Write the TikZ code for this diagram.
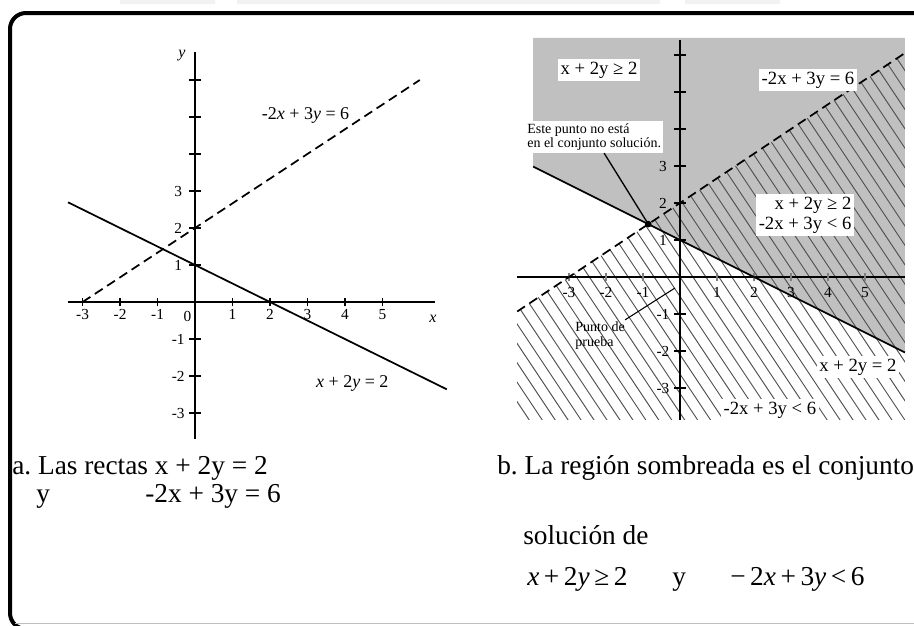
\documentclass[tikz,border=0pt]{standalone}
\usepackage{fontspec}
\setmainfont{Liberation Serif}
\usetikzlibrary{positioning}
\definecolor{shadegray}{HTML}{C0C0C0}
\definecolor{hatchgray}{HTML}{505050}
\frenchspacing

\begin{document}
\begin{tikzpicture}[x=0.75pt, y=-0.75pt,
    axis/.style={line width=2pt},
    graph/.style={line width=1.3pt},
    dashgraph/.style={line width=1.3pt, dash pattern=on 7pt off 4pt},
    tickmark/.style={line width=1pt},
    ticklbl/.style={font=\fontsize{11.5}{12}\selectfont, inner sep=1pt},
    eqlbl/.style={font=\fontsize{13.5}{15}\selectfont, inner sep=1pt},
    boxlbl/.style={fill=white, font=\fontsize{14}{15}\selectfont, inner sep=2pt, align=right},
    notelbl/.style={fill=white, font=\fontsize{10.5}{11}\selectfont, inner sep=1.5pt, align=left},
    caption/.style={font=\fontsize{20.5}{22}\selectfont, inner sep=0pt, anchor=base west}]

\useasboundingbox (0,0) rectangle (914,625);
% marco
\fill[gray!10] (120,0) rectangle (215,4) (237,0) rectangle (660,4) (685,0) rectangle (780,4);
\draw[line width=3pt, rounded corners=12pt] (10,13) rectangle (935,629);
\draw[gray!50, line width=0.6pt] (15,623) -- (914,623);

% (a) las dos rectas
\begin{scope}[shift={(195,302)}, x=28.1pt, y=27.75pt]
  \draw[axis] (-3.4,0) -- (6.4,0);
  \draw[axis] (0,-3.7) -- (0,6.75);
  \foreach \i in {-3,-2,-1,1,2,3,4,5} {
    \draw[tickmark] (\i,-0.12) -- (\i,0.12);
    \node[ticklbl, below=1pt] at (\i,-0.12) {\i};
  }
  \foreach \i in {-3,-2,-1,1,2,...,6}
    \draw[tickmark] (-0.15,\i) -- (0.15,\i);
  \foreach \i in {-3,-2,-1,1,2,3}
    \node[ticklbl] at (-0.45,\i) {\i};
  \node[ticklbl] (cero) at (-0.2,-0.4) {0};
  \node[ticklbl, font=\fontsize{12}{13}\selectfont\itshape] (ejex) at (6.35,-0.45) {x};
  \node[ticklbl, font=\fontsize{12}{13}\selectfont\itshape] (ejey) at (-0.35,6.65) {y};
  \draw[graph] (-3.39,2.695) -- (6.72,-2.36);
  \draw[dashgraph] (-3,0) -- (6,6);
  \node[eqlbl] (eqdash) at (2.95,5.05) {-2\textit{x} + 3\textit{y} = 6};
  \node[eqlbl] (eqsolid) at (4.2,-2.2) {\textit{x} + 2\textit{y} = 2};
\end{scope}

% (b) region solucion
\begin{scope}[shift={(680,277)}, x=27.75pt, y=27.75pt]
  \fill[shadegray] (-3.97,2.985) -- (6.08,-2.04) -- (6.08,6.46) -- (-3.97,6.46) -- cycle;
  \begin{scope}
    \clip (-4.4,-0.933) -- (6.08,6.053) -- (6.08,-3.86) -- (-4.4,-3.86) -- cycle;
    \foreach \c in {-14,-13.65,...,14}
      \draw[hatchgray, line width=0.7pt] (\c-5,7.5) -- (\c+5,-7.5);
  \end{scope}
  \draw[axis] (-4.4,0) -- (6.08,0);
  \draw[axis] (0,-3.86) -- (0,6.4);
  \foreach \i in {-3,-2,-1,1,2,3,4,5} {
    \draw[tickmark, gray] (\i,-0.12) -- (\i,0.12);
    \node[ticklbl, below=1pt] at (\i,-0.2) {\i};
  }
  \foreach \i in {-3,-2,-1,1,2,...,6}
    \draw[tickmark] (-0.15,\i) -- (0.15,\i);
  \foreach \i in {-3,-2,-1,1,2,3}
    \node[ticklbl] at (-0.46,\i) {\i};
  \draw[graph] (-3.97,2.985) -- (6.08,-2.04);
  \draw[dashgraph] (-4.4,-0.933) -- (6.08,6.053);
  \coordinate (pi) at (-0.857,1.429);
  \coordinate (po) at (-0.14,-0.3);
  \fill (pi) circle (2.5pt);
  \node[boxlbl] (regA) at (-2.19,5.59) {x + 2y ≥ 2};
  \node[boxlbl] (eqB) at (3.46,5.32) {-2x + 3y = 6};
  \node[boxlbl] (regAB) at (3.38,1.68) {x + 2y ≥ 2\\-2x + 3y < 6};
  \node[boxlbl] (eqC) at (4.81,-2.43) {x + 2y = 2};
  \node[boxlbl] (regB) at (2.43,-3.59) {-2x + 3y < 6};
  \node[notelbl] (este) at (-2.32,3.78) {Este punto no está\\en el conjunto solución.};
  \node[notelbl, fill=none] (prueba) at (-2.16,-1.59) {Punto de\\prueba};
  \draw[line width=1pt] (este) -- (pi);
  \draw[line width=0.8pt] (prueba) -- (po);
\end{scope}

% textos de abajo
\node[caption] (capA) at (12,474) {a. Las rectas x + 2y = 2};
\node[caption] (capAy) at (36,502) {y};
\node[caption] (capAeq) at (145,502) {-2x + 3y = 6};
\node[caption] (capB) at (497,474) {b. La región sombreada es el conjunto};
\node[caption] (capBsol) at (523,544) {solución de};
\node[caption] (capBine) at (527,585) {\textit{x}\,+\,2\textit{y}\,≥\,2};
\node[caption] (capBy) at (672,585) {y};
\node[caption] (capBine2) at (730,585) {−\,2\textit{x}\,+\,3\textit{y}\,<\,6};
\end{tikzpicture}
\end{document}
